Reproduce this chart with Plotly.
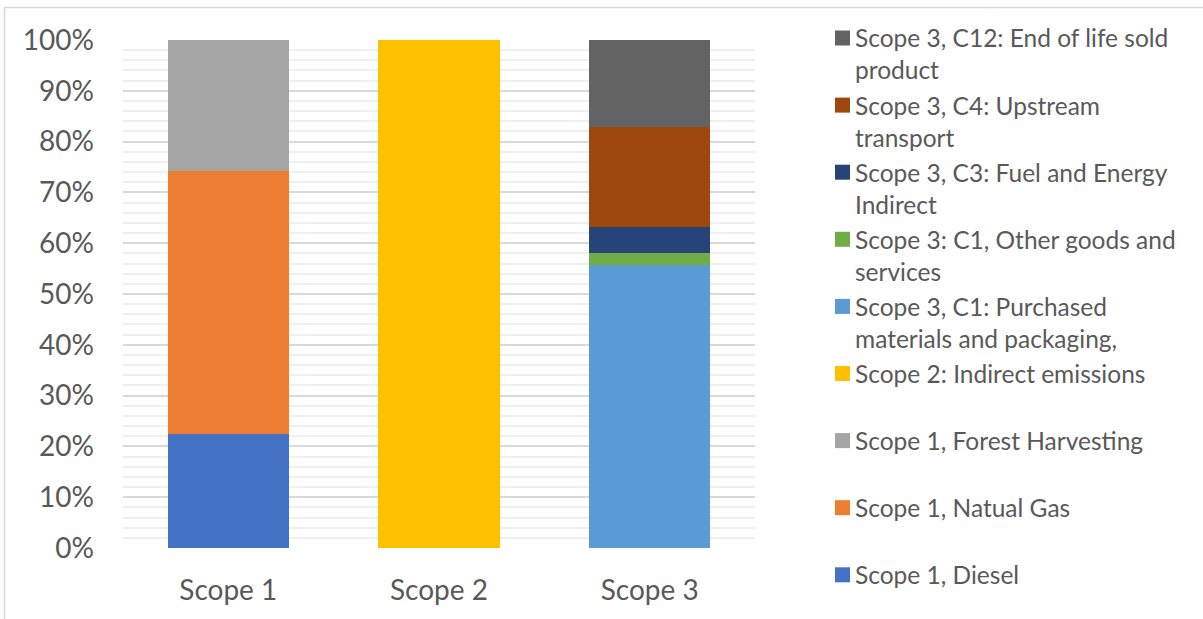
import plotly.graph_objects as go

categories = ["Scope 1", "Scope 2", "Scope 3"]

# Share of each emission source within its scope (percent)
diesel = [22.4, None, None]
natural_gas = [51.8, None, None]
forest_harvesting = [25.8, None, None]
scope2_indirect = [None, 100.0, None]
c1_purchased = [None, None, 55.7]
c1_other = [None, None, 2.4]
c3_fuel_energy = [None, None, 5.0]
c4_upstream = [None, None, 19.8]
c12_end_of_life = [None, None, 17.1]

series_names = [
    "Scope 1, Diesel",
    "Scope 1, Natual Gas",
    "Scope 1, Forest Harvesting",
    "Scope 2: Indirect emissions",
    "Scope 3, C1: Purchased materials and packaging,",
    "Scope 3: C1, Other goods and services",
    "Scope 3, C3: Fuel and Energy Indirect",
    "Scope 3, C4: Upstream transport",
    "Scope 3, C12: End of life sold product",
]
# Legend labels with their line breaks
legend_labels = [
    "Scope 1, Diesel",
    "Scope 1, Natual Gas",
    "Scope 1, Forest Harvesting",
    "Scope 2: Indirect emissions",
    "Scope 3, C1: Purchased<br>materials and packaging,",
    "Scope 3: C1, Other goods and<br>services",
    "Scope 3, C3: Fuel and Energy<br>Indirect",
    "Scope 3, C4: Upstream<br>transport",
    "Scope 3, C12: End of life sold<br>product",
]
series_values = [diesel, natural_gas, forest_harvesting, scope2_indirect,
                 c1_purchased, c1_other, c3_fuel_energy, c4_upstream,
                 c12_end_of_life]
colors = ["#4472C4", "#ED7D31", "#A5A5A5", "#FFC000", "#5B9BD5",
          "#70AD47", "#264478", "#9E480E", "#636363"]

W, H = 1203, 619
ML, MR, MT, MB = 123, 448, 40, 71
PW, PH = W - ML - MR, H - MT - MB

def px_x(x):
    return (x - ML) / PW

def px_y(y):
    return (H - MB - y) / PH

FONT = "Lato"
TXT = "#595959"

fig = go.Figure()
for name, vals, col in zip(series_names, series_values, colors):
    fig.add_trace(go.Bar(x=categories, y=vals, name=name,
                         marker=dict(color=col, line=dict(width=0)),
                         showlegend=False))

shapes = []
annotations = []

# Outer frame (left and top edges)
shapes.append(dict(type="line", xref="paper", yref="paper",
                   x0=px_x(4.5), x1=px_x(4.5), y0=px_y(7.5), y1=px_y(H + 2),
                   line=dict(color="#D9D9D9", width=1.5)))
shapes.append(dict(type="line", xref="paper", yref="paper",
                   x0=px_x(4.5), x1=px_x(W + 2), y0=px_y(7.5), y1=px_y(7.5),
                   line=dict(color="#D9D9D9", width=1.5)))

# Legend, newest series at the top
n = len(series_names)
for k in range(n):
    i = n - 1 - k
    cy = 38 + k * 67.1
    lines = legend_labels[i].count("<br>") + 1
    shapes.append(dict(type="rect", xref="paper", yref="paper",
                       x0=px_x(835), x1=px_x(850),
                       y0=px_y(cy - 7.5), y1=px_y(cy + 7.5),
                       fillcolor=colors[i], line=dict(width=0)))
    annotations.append(dict(xref="paper", yref="paper",
                            x=px_x(853), y=px_y(cy + (lines - 1) * 16),
                            xanchor="left", yanchor="middle", align="left",
                            text=legend_labels[i], showarrow=False,
                            font=dict(family=FONT, size=24.5, color=TXT)))

fig.update_layout(
    width=W, height=H,
    margin=dict(l=ML, r=MR, t=MT, b=MB, pad=0),
    barmode="stack", bargap=0.424,
    paper_bgcolor="white", plot_bgcolor="white",
    font=dict(family=FONT, size=24, color=TXT),
    shapes=shapes, annotations=annotations,
    xaxis=dict(showgrid=False, showline=False, ticks="",
               tickfont=dict(family=FONT, size=28, color=TXT),
               ticklabelstandoff=23),
    yaxis=dict(range=[0, 100], dtick=10, ticksuffix="%",
               showgrid=True, gridcolor="#D9D9D9", gridwidth=1.5,
               zeroline=False, showline=False, ticks="",
               tickfont=dict(family=FONT, size=28, color=TXT),
               ticklabelstandoff=28,
               minor=dict(dtick=2, showgrid=True, gridcolor="#F0F0F0",
                          gridwidth=1.5)),
)

fig.write_html("out.html")
